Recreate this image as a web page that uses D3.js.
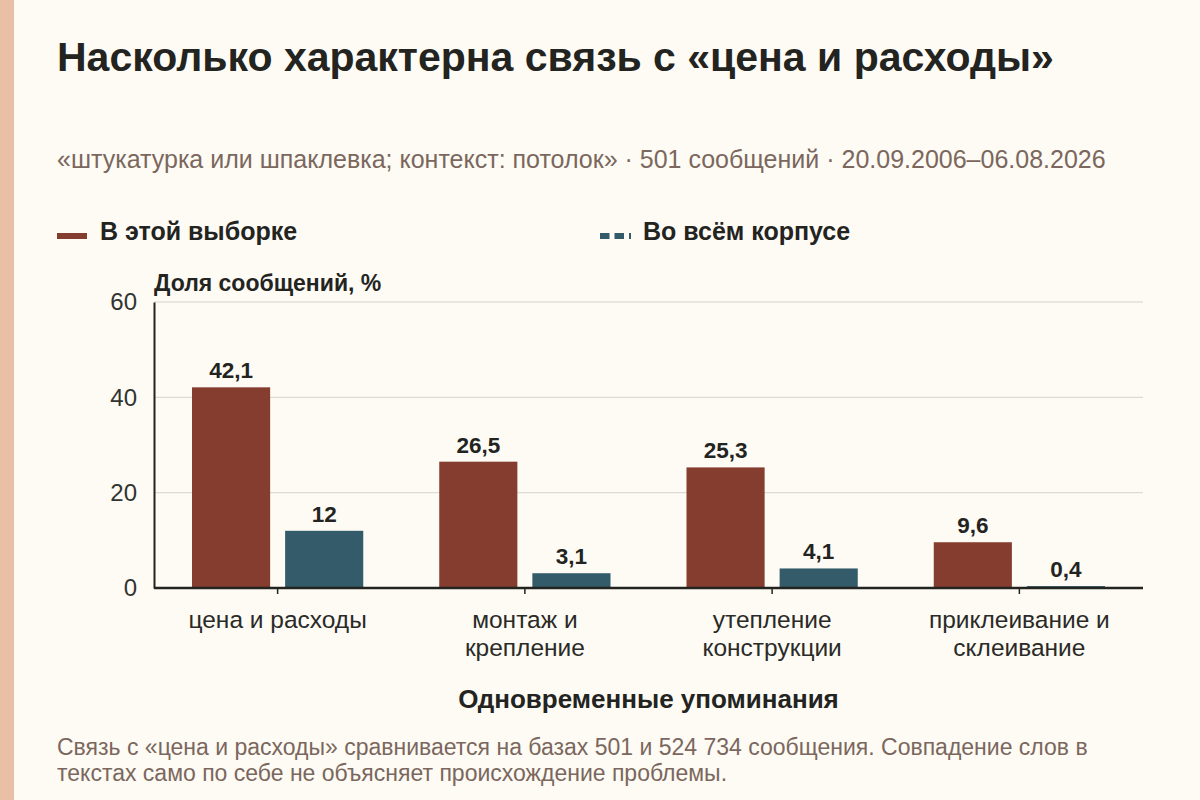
<!DOCTYPE html>
<html>
<head>
<meta charset="utf-8">
<script src="https://cdn.jsdelivr.net/npm/d3@7"></script>
<style>
    body { margin: 0; background: #fdfbf4; }
    svg { display: block; font-family: "Liberation Sans", Arial, sans-serif; }
</style>
</head>
<body>
<svg id="chart"></svg>
<script>
// data
const categories = [['цена и расходы'], ['монтаж и', 'крепление'], ['утепление', 'конструкции'], ['приклеивание и', 'склеивание']];
const sampleValues = [42.1, 26.5, 25.3, 9.6];
const corpusValues = [12, 3.1, 4.1, 0.4];
const yTicks = [0, 20, 40, 60];
const seriesNames = ['В этой выборке', 'Во всём корпусе'];
const colors = ['#843d2f', '#335b69'];

const width = 1200;
const height = 800;
const margin = { top: 302, right: 57, bottom: 212, left: 154 };
const boundedWidth = width - margin.left - margin.right;
const boundedHeight = height - margin.top - margin.bottom;

const fmt = v => String(v).replace('.', ',');

const svg = d3.select('#chart')
    .attr('width', width)
    .attr('height', height);

svg.append('rect')
    .attr('width', width).attr('height', height)
    .attr('fill', '#fdfbf4');

// left accent strip
svg.append('rect')
    .attr('width', 14).attr('height', height)
    .attr('fill', '#e9c0a6');

// title and subtitle
svg.append('text')
    .attr('x', 57).attr('y', 71)
    .attr('font-size', 41).attr('font-weight', 'bold')
    .attr('fill', '#23231f')
    .text('Насколько характерна связь с «цена и расходы»');

svg.append('text')
    .attr('x', 57).attr('y', 168)
    .attr('font-size', 25)
    .attr('fill', '#7b675d')
    .text('«штукатурка или шпаклевка; контекст: потолок» · 501 сообщений · 20.09.2006–06.08.2026');

// legend
const legend = svg.append('g');
legend.append('line')
    .attr('x1', 57).attr('x2', 87).attr('y1', 236).attr('y2', 236)
    .attr('stroke', colors[0]).attr('stroke-width', 6);
legend.append('text')
    .attr('x', 100).attr('y', 240)
    .attr('font-size', 25).attr('font-weight', 'bold').attr('fill', '#23231f')
    .text(seriesNames[0]);
legend.append('line')
    .attr('x1', 600).attr('x2', 631).attr('y1', 236).attr('y2', 236)
    .attr('stroke', colors[1]).attr('stroke-width', 6)
    .attr('stroke-dasharray', '9.5 5');
legend.append('text')
    .attr('x', 643).attr('y', 240)
    .attr('font-size', 25).attr('font-weight', 'bold').attr('fill', '#23231f')
    .text(seriesNames[1]);

const bounds = svg.append('g')
    .attr('transform', `translate(${margin.left}, ${margin.top})`);

// scales
const xScale = d3.scaleBand()
    .domain(d3.range(categories.length))
    .range([0, boundedWidth])
    .paddingInner(0)
    .paddingOuter(0);

const xSub = d3.scaleBand()
    .domain([0, 1])
    .range([38, xScale.bandwidth() - 38])
    .paddingInner(0.161);

const yScale = d3.scaleLinear()
    .domain([0, 60])
    .range([boundedHeight, 0]);

// grid
bounds.append('g')
    .selectAll('line')
    .data(yTicks.filter(d => d > 0))
    .join('line')
    .attr('x1', 0).attr('x2', boundedWidth)
    .attr('y1', d => yScale(d)).attr('y2', d => yScale(d))
    .attr('stroke', '#d6d3cc').attr('stroke-width', 1);

// y axis
const yAxis = d3.axisLeft(yScale)
    .tickValues(yTicks)
    .tickSize(0)
    .tickPadding(17);
const yAxisG = bounds.append('g').call(yAxis);
yAxisG.select('.domain').attr('stroke', '#23231f').attr('stroke-width', 2);
yAxisG.selectAll('text')
    .attr('font-size', 24).attr('fill', '#333330')
    .attr('font-family', '"Liberation Sans", Arial, sans-serif');

bounds.append('text')
    .attr('x', 0).attr('y', -11)
    .attr('font-size', 23).attr('font-weight', 'bold').attr('fill', '#23231f')
    .text('Доля сообщений, %');

// bars
const groups = bounds.append('g')
    .selectAll('g')
    .data(categories.map((c, i) => ({ i, values: [sampleValues[i], corpusValues[i]] })))
    .join('g')
    .attr('transform', d => `translate(${xScale(d.i)}, 0)`);

groups.selectAll('rect')
    .data(d => d.values.map((v, s) => ({ v, s })))
    .join('rect')
    .attr('x', d => xSub(d.s))
    .attr('width', xSub.bandwidth())
    .attr('y', d => yScale(d.v))
    .attr('height', d => boundedHeight - yScale(d.v))
    .attr('fill', d => colors[d.s]);

groups.selectAll('text.value')
    .data(d => d.values.map((v, s) => ({ v, s })))
    .join('text')
    .attr('class', 'value')
    .attr('x', d => xSub(d.s) + xSub.bandwidth() / 2)
    .attr('y', d => yScale(d.v) - 9)
    .attr('text-anchor', 'middle')
    .attr('font-size', 22.5).attr('font-weight', 'bold').attr('fill', '#23231f')
    .text(d => fmt(d.v));

// x axis
const xAxis = d3.axisBottom(xScale)
    .tickSize(6)
    .tickFormat('');
const xAxisG = bounds.append('g')
    .attr('transform', `translate(0, ${boundedHeight})`)
    .call(xAxis);
xAxisG.select('.domain').remove();
xAxisG.selectAll('.tick line').attr('stroke', '#23231f').attr('stroke-width', 1.5);
bounds.append('line')
    .attr('x1', 0).attr('x2', boundedWidth)
    .attr('y1', boundedHeight).attr('y2', boundedHeight)
    .attr('stroke', '#23231f').attr('stroke-width', 2.5);

// category labels
bounds.append('g')
    .selectAll('text')
    .data(categories)
    .join('text')
    .attr('x', (d, i) => xScale(i) + xScale.bandwidth() / 2)
    .attr('y', boundedHeight + 40)
    .attr('text-anchor', 'middle')
    .attr('font-size', 24.5).attr('fill', '#2a2a27')
    .selectAll('tspan')
    .data(d => d)
    .join('tspan')
    .attr('x', function () { return this.parentNode.getAttribute('x'); })
    .attr('dy', (d, i) => i === 0 ? 0 : 28)
    .text(d => d);

bounds.append('text')
    .attr('x', boundedWidth / 2).attr('y', boundedHeight + 120)
    .attr('text-anchor', 'middle')
    .attr('font-size', 26).attr('font-weight', 'bold').attr('fill', '#23231f')
    .text('Одновременные упоминания');

// footnote
const note = svg.append('text')
    .attr('x', 57).attr('y', 755)
    .attr('font-size', 23).attr('fill', '#7b675d');
note.append('tspan').attr('x', 57).attr('dy', 0)
    .text('Связь с «цена и расходы» сравнивается на базах 501 и 524 734 сообщения. Совпадение слов в');
note.append('tspan').attr('x', 57).attr('dy', 26)
    .text('текстах само по себе не объясняет происхождение проблемы.');
</script>
</body>
</html>
